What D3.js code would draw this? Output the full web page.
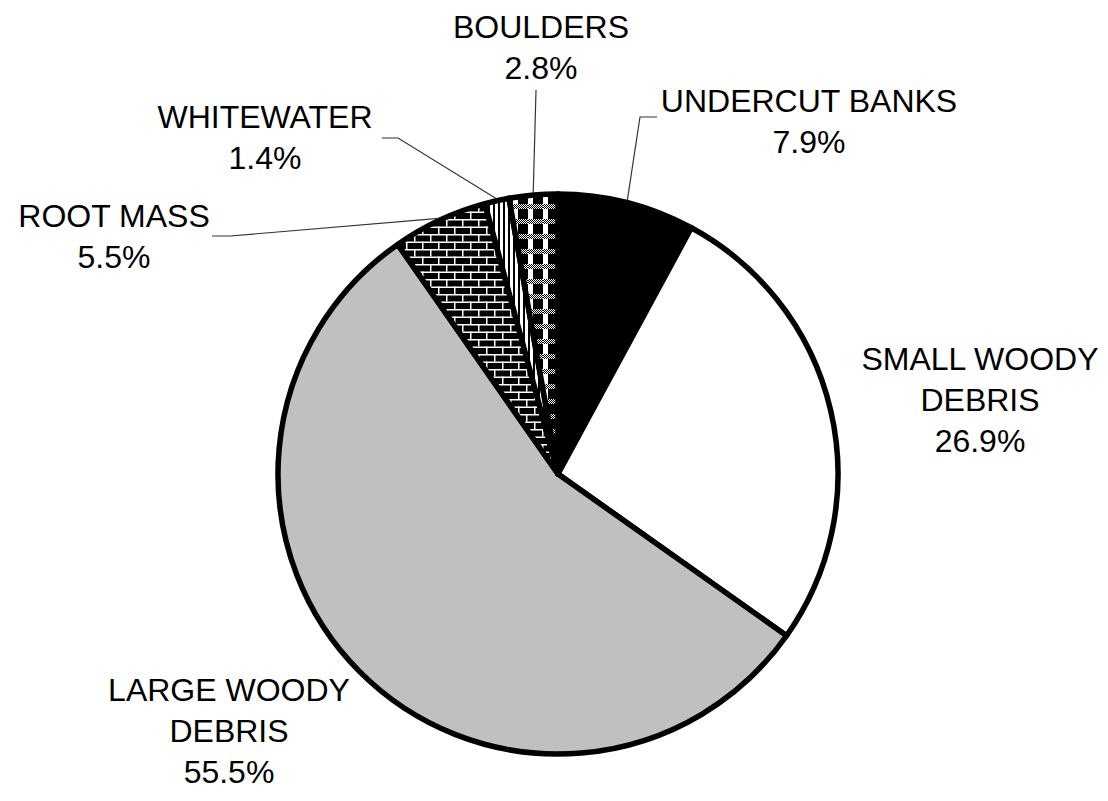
<!DOCTYPE html>
<html>
<head>
<meta charset="utf-8">
<script src="https://cdn.jsdelivr.net/npm/d3@7"></script>
<style>
  body { margin: 0; background: #fff; }
  text { font-family: "Liberation Sans", Arial, sans-serif; font-size: 32px; fill: #000; }
</style>
</head>
<body>
<div id="chart"></div>
<script>
var svgWidth = 1108;
var svgHeight = 801;

// data
var categories = ["UNDERCUT BANKS", "SMALL WOODY DEBRIS", "LARGE WOODY DEBRIS", "ROOT MASS", "WHITEWATER", "BOULDERS"];
var values = [7.9, 26.9, 55.5, 5.5, 1.4, 2.8];
var labelLines = [["UNDERCUT BANKS"], ["SMALL WOODY", "DEBRIS"], ["LARGE WOODY", "DEBRIS"], ["ROOT MASS"], ["WHITEWATER"], ["BOULDERS"]];
var fills = ["#000000", "#ffffff", "#c0c0c0", "url(#brick)", "url(#vstripe)", "url(#plaid)"];

// label layout (first baseline) and leader stubs
var labelPos = [[809, 112], [980, 370], [229, 701], [114, 227], [265, 128], [541, 38]];
var leaders = [[[657, 117], [640, 117]], null, null, [[212, 236], [230, 236]], [[382, 138], [398, 138]], [[536, 90]]];

var cx = 558, cy = 474, radius = 280;

var svg = d3.select("#chart").append("svg")
  .attr("width", svgWidth)
  .attr("height", svgHeight);

// patterns
var defs = svg.append("defs");

var brick = defs.append("pattern").attr("id", "brick")
  .attr("patternUnits", "userSpaceOnUse").attr("width", 16).attr("height", 15);
brick.append("rect").attr("width", 16).attr("height", 15).attr("fill", "#000");
brick.append("rect").attr("x", 0).attr("y", 0).attr("width", 16).attr("height", 1.5).attr("fill", "#fff");
brick.append("rect").attr("x", 0).attr("y", 7.5).attr("width", 16).attr("height", 1.5).attr("fill", "#fff");
brick.append("rect").attr("x", 0).attr("y", 0).attr("width", 1.5).attr("height", 7.5).attr("fill", "#fff");
brick.append("rect").attr("x", 8).attr("y", 7.5).attr("width", 1.5).attr("height", 7.5).attr("fill", "#fff");

var vstripe = defs.append("pattern").attr("id", "vstripe")
  .attr("patternUnits", "userSpaceOnUse").attr("width", 5).attr("height", 5);
vstripe.append("rect").attr("width", 5).attr("height", 5).attr("fill", "#fff");
vstripe.append("rect").attr("x", 0).attr("width", 2).attr("height", 5).attr("fill", "#000");

var plaid = defs.append("pattern").attr("id", "plaid")
  .attr("patternUnits", "userSpaceOnUse").attr("width", 15).attr("height", 15);
plaid.append("rect").attr("width", 15).attr("height", 15).attr("fill", "#000");
for (var i = 0; i < 15; i++) {
  for (var j = 0; j < 5; j++) {
    if ((i + j) % 2 === 0) {
      plaid.append("rect").attr("x", i).attr("y", j).attr("width", 1).attr("height", 1).attr("fill", "#fff");
    }
  }
}
plaid.append("rect").attr("x", 0).attr("y", 5).attr("width", 5).attr("height", 10).attr("fill", "#fff");

var chartGroup = svg.append("g")
  .attr("transform", `translate(${cx}, ${cy})`);

var pie = d3.pie().sort(null).value(d => d);
var arcs = pie(values);

var arc = d3.arc().innerRadius(0).outerRadius(radius);

// leader lines
arcs.forEach(function(d, i) {
  if (!leaders[i]) return;
  var mid = (d.startAngle + d.endAngle) / 2;
  var end = [cx + (radius + 2) * Math.sin(mid), cy - (radius + 2) * Math.cos(mid)];
  var pts = leaders[i].concat([end]);
  svg.append("path")
    .attr("d", d3.line()(pts))
    .attr("fill", "none")
    .attr("stroke", "#333")
    .attr("stroke-width", 1.2);
});

// slices
chartGroup.selectAll("path.slice")
  .data(arcs)
  .enter()
  .append("path")
  .attr("class", "slice")
  .attr("d", arc)
  .attr("fill", (d, i) => fills[i])
  .attr("stroke", "#000")
  .attr("stroke-width", 5.5)
  .attr("stroke-linejoin", "round");

// labels
var labels = svg.append("g");
categories.forEach(function(c, i) {
  var lines = labelLines[i].concat([values[i].toFixed(1) + "%"]);
  var t = labels.append("text")
    .attr("text-anchor", "middle")
    .attr("x", labelPos[i][0])
    .attr("y", labelPos[i][1]);
  lines.forEach(function(l, k) {
    t.append("tspan")
      .attr("x", labelPos[i][0])
      .attr("dy", k === 0 ? 0 : 41)
      .text(l);
  });
});
</script>
</body>
</html>
